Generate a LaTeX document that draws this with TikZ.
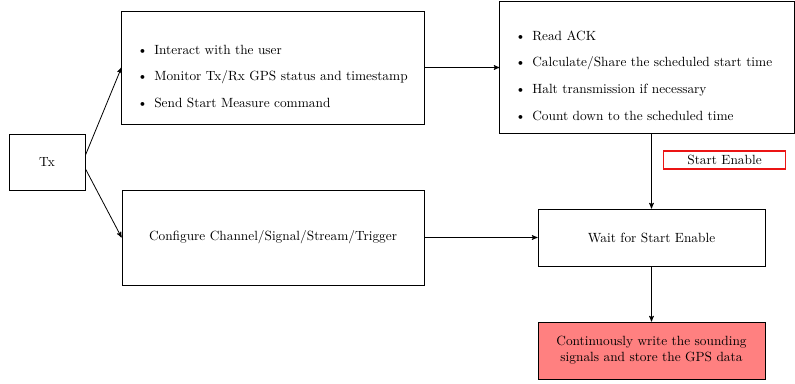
\documentclass[tikz,border=0pt]{standalone}
\usepackage{amsmath,amsfonts,amssymb}
\usepackage{tikz}
\usetikzlibrary{arrows}
\definecolor{node_red}{RGB}{255,128,128}
\definecolor{edge_red}{RGB}{235,20,20}
\setlength{\leftmargini}{21pt}

\begin{document}
\begin{tikzpicture}[->,semithick,>=stealth',x=0.75pt,y=-0.75pt]
    \tikzstyle{blk}=[draw=black, rectangle, fill=none, text=black, align=center]
    \tikzstyle{lst}=[draw=black, rectangle, fill=none, text=black, align=left]
    \tikzstyle{tag}=[draw=edge_red, line width=0.8pt, rectangle, fill=none, text=black, inner sep=1pt]
    \tikzstyle{res}=[style=blk, fill=node_red]

    \useasboundingbox (0,0) rectangle (795,383);

    \node[blk, minimum width=57pt, minimum height=42pt] (tx) at (47,162) {Tx};
    \node[lst, text width=220pt, minimum height=84.75pt] (ui) at (273,67.5) {%
      \begin{itemize}
        \item Interact with the user
        \item Monitor Tx/Rx GPS status and timestamp
        \item Send Start Measure command
      \end{itemize}};
    \node[blk, minimum width=226.5pt, minimum height=71.25pt] (cfg) at (273,237.5)
      {Configure Channel/Signal/Stream/Trigger};
    \node[lst, text width=214pt, minimum height=99pt] (sched) at (647,67) {%
      \begin{itemize}
        \item Read ACK
        \item Calculate/Share the scheduled start time
        \item Halt transmission if necessary
        \item Count down to the scheduled time
      \end{itemize}};
    \node[blk, minimum width=170.25pt, minimum height=42.75pt] (wait) at (651.5,237.5)
      {Wait for Start Enable};
    \node[res, minimum width=170.25pt, minimum height=42.75pt] (write) at (651.5,350.5)
      {Continuously write the sounding\\ signals and store the GPS data};
    \node[tag, minimum width=92pt, minimum height=13.5pt] (enable) at (724.5,160) {Start Enable};

    \path
     (tx.10)  edge (ui.west)
     (tx.-10) edge (cfg.west)
     (ui.east) edge (ui.east -| sched.west)
     (sched.south -| wait.north) edge (wait.north)
     (cfg) edge (wait)
     (wait) edge (write)
     ;
\end{tikzpicture}
\end{document}
